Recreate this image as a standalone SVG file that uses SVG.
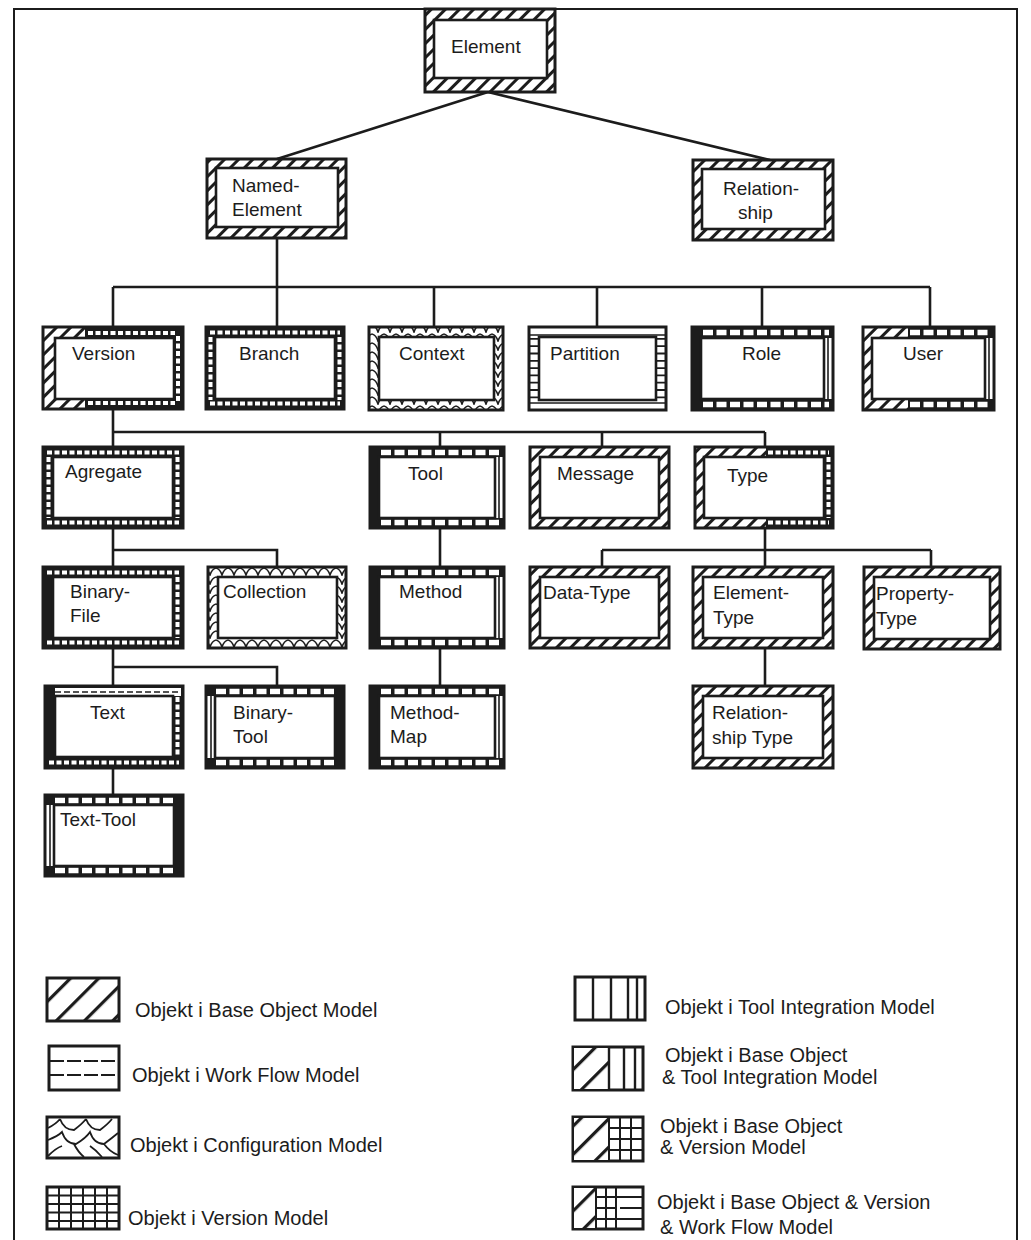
<svg xmlns="http://www.w3.org/2000/svg" width="1031" height="1240" viewBox="0 0 1031 1240">
<defs>
  <style>
    .o{stroke:#1c1c1c;stroke-width:3}
    .i{fill:#fff;stroke:#1c1c1c;stroke-width:2.6}
    .t{font-family:"Liberation Sans",Arial,Helvetica,sans-serif;font-size:19px;fill:#1c1c1c}
    .lt{font-family:"Liberation Sans",Arial,Helvetica,sans-serif;font-size:20px;fill:#1c1c1c}
    .c{stroke:#1c1c1c;stroke-width:2.6;fill:none}
    .w{fill:#fff}
    .ln{stroke:#1c1c1c;fill:none}
    .sq{stroke:#fff;fill:none;stroke-width:4;stroke-dasharray:5 2.5}
    .tb{stroke:#fff;fill:none;stroke-width:5.5;stroke-dasharray:10 3.5}
  </style>
  <!-- base object model: diagonal hatch -->
  <pattern id="pDiag" width="10" height="10" patternUnits="userSpaceOnUse" patternTransform="rotate(45)">
    <rect width="10" height="10" fill="#fff"/>
    <rect width="3" height="10" fill="#1c1c1c"/>
  </pattern>
  <!-- configuration model: wavy cells -->
  <pattern id="pConf" width="12" height="9" patternUnits="userSpaceOnUse">
    <rect width="12" height="9" fill="#fff"/>
    <path d="M0,1 Q4,2 6,8 Q8,2 12,1" fill="none" stroke="#1c1c1c" stroke-width="1.6"/>
  </pattern>
  <pattern id="pLegDiag" width="20" height="20" patternUnits="userSpaceOnUse" patternTransform="rotate(45)">
    <rect width="20" height="20" fill="#fff"/>
    <rect width="3.2" height="20" fill="#1c1c1c"/>
  </pattern>
</defs>

<rect width="1031" height="1240" fill="#fff"/>
<!-- page frame -->
<path d="M14,1240 V9 H1017 V1240" fill="none" stroke="#1c1c1c" stroke-width="2"/>

<!-- connectors -->
<g id="connectors" class="c">
  <path d="M488,92 L277,159 M488,92 L770,160"/>
  <path d="M277,238 V287 M113,287 H930"/>
  <path d="M113,287 V327 M277,287 V327 M434,287 V327 M597,287 V327 M762,287 V327 M930,287 V327"/>
  <path d="M113,409 V447 M113,432 H765 M440,432 V447 M602,432 V447 M765,432 V447"/>
  <path d="M113,528 V567 M113,550 H277 V567"/>
  <path d="M440,528 V567"/>
  <path d="M765,528 V567 M602,550 H931 M602,550 V567 M931,550 V567"/>
  <path d="M113,648 V686 M113,667 H277 V686"/>
  <path d="M440,648 V686"/>
  <path d="M765,648 V686"/>
  <path d="M113,768 V795"/>
</g>

<!-- Element -->
<g id="element">
  <rect class="o" x="425" y="9" width="130" height="83" fill="url(#pDiag)"/>
  <rect class="i" x="434" y="20" width="113" height="58"/>
  <text class="t" x="451" y="53">Element</text>
</g>

<!-- Named-Element -->
<g id="named-element">
  <rect class="o" x="207" y="159" width="139" height="79" fill="url(#pDiag)"/>
  <rect class="i" x="216" y="168" width="122" height="59"/>
  <text class="t" x="232" y="192">Named-</text>
  <text class="t" x="232" y="216">Element</text>
</g>

<!-- Relation-ship -->
<g id="relationship">
  <rect class="o" x="693" y="160" width="140" height="80" fill="url(#pDiag)"/>
  <rect class="i" x="702" y="169" width="123" height="60"/>
  <text class="t" x="723" y="195">Relation-</text>
  <text class="t" x="738" y="219">ship</text>
</g>

<!-- Version: base object + version model -->
<g id="version">
  <rect class="o" x="43" y="327" width="140" height="82" fill="#1c1c1c"/>
  <path d="M88,333 H175 M88,403 H175 M178,336 V401" class="sq"/>
  <path d="M44.5,328.5 H85 V338 H56 V398 H85 V407.5 H44.5 Z" fill="url(#pDiag)"/>
  <rect class="i" x="55" y="338" width="119" height="61"/>
  <text class="t" x="72" y="360">Version</text>
</g>

<!-- Branch: version model -->
<g id="branch">
  <rect class="o" x="206" y="327" width="138" height="82" fill="#1c1c1c"/>
  <path d="M210,332.5 H340 M210,403.5 H340 M210.5,337 V400 M339.5,337 V400" class="sq"/>
  <rect class="i" x="215" y="337" width="120" height="62"/>
  <text class="t" x="239" y="360">Branch</text>
</g>

<!-- Context: configuration model -->
<g id="context">
  <rect class="o" x="369" y="327" width="134" height="83" fill="url(#pConf)"/>
  <rect class="i" x="379" y="337" width="115" height="63"/>
  <text class="t" x="399" y="360">Context</text>
</g>

<!-- Partition: work flow model -->
<g id="partition">
  <rect class="o" x="529" y="327" width="137" height="83" fill="#fff"/>
  <path d="M534,338 V399 M661,338 V399" class="ln" stroke-width="9" stroke-dasharray="1.8 5.5"/>
  <path d="M530,335 H665 M530,403 H665" class="ln" stroke-width="1.6"/>
  <rect class="i" x="539" y="337" width="117" height="63"/>
  <text class="t" x="550" y="360">Partition</text>
</g>

<!-- Role: tool integration model -->
<g id="role">
  <rect class="o" x="692" y="327" width="141" height="83" fill="#1c1c1c"/>
  <path d="M703,332.5 H829 M703,404.5 H829" class="tb"/>
  <rect x="825" y="338" width="6.5" height="61" class="w"/>
  <path d="M828,338 V399" class="ln" stroke-width="1.6"/>
  <rect class="i" x="701" y="338" width="123" height="61"/>
  <text class="t" x="742" y="360">Role</text>
</g>

<!-- User: base object + tool integration model -->
<g id="user">
  <rect class="o" x="863" y="327" width="131" height="83" fill="#1c1c1c"/>
  <path d="M910,332.5 H990 M910,404.5 H990" class="tb"/>
  <path d="M864.5,328.5 H908 V338 H873 V399 H908 V408.5 H864.5 Z" fill="url(#pDiag)"/>
  <rect x="986" y="338" width="6.5" height="61" class="w"/>
  <path d="M989,338 V399" class="ln" stroke-width="1.6"/>
  <rect class="i" x="872" y="338" width="113" height="61"/>
  <text class="t" x="903" y="360">User</text>
</g>

<!-- Agregate: version model -->
<g id="agregate">
  <rect class="o" x="43" y="447" width="140" height="81" fill="#1c1c1c"/>
  <path d="M47,452.5 H179 M47,522.5 H179 M48.5,457 V518 M177.5,457 V518" class="sq"/>
  <rect class="i" x="53" y="457" width="120" height="61"/>
  <text class="t" x="65" y="478">Agregate</text>
</g>

<!-- Tool: tool integration model -->
<g id="tool">
  <rect class="o" x="370" y="447" width="134" height="81" fill="#1c1c1c"/>
  <path d="M381,452.5 H500 M381,522.5 H500" class="tb"/>
  <rect x="496" y="457" width="6.5" height="61" class="w"/>
  <path d="M499,457 V518" class="ln" stroke-width="1.6"/>
  <rect class="i" x="379" y="457" width="116" height="61"/>
  <text class="t" x="408" y="480">Tool</text>
</g>

<!-- Message: base object model -->
<g id="message">
  <rect class="o" x="530" y="447" width="139" height="81" fill="url(#pDiag)"/>
  <rect class="i" x="540" y="457" width="119" height="61"/>
  <text class="t" x="557" y="480">Message</text>
</g>

<!-- Type: base object + version model -->
<g id="type">
  <rect class="o" x="695" y="447" width="138" height="81" fill="#1c1c1c"/>
  <path d="M768,452.5 H829 M768,522.5 H829 M828.5,457 V518" class="sq"/>
  <path d="M696.5,448.5 H766 V457 H704 V518 H766 V526.5 H696.5 Z" fill="url(#pDiag)"/>
  <rect class="i" x="704" y="457" width="120" height="61"/>
  <text class="t" x="727" y="482">Type</text>
</g>

<!-- Binary-File: version model -->
<g id="binary-file">
  <rect class="o" x="43" y="567" width="140" height="81" fill="#1c1c1c"/>
  <path d="M47,572.5 H179 M47,642.5 H179 M177.5,577 V638" class="sq"/>
  <rect class="i" x="53" y="577" width="120" height="61"/>
  <text class="t" x="70" y="598">Binary-</text>
  <text class="t" x="70" y="622">File</text>
</g>

<!-- Collection: configuration model -->
<g id="collection">
  <rect class="o" x="208" y="567" width="138" height="81" fill="url(#pConf)"/>
  <rect class="i" x="218" y="577" width="119" height="61"/>
  <text class="t" x="223" y="598">Collection</text>
</g>

<!-- Method: tool integration model -->
<g id="method">
  <rect class="o" x="370" y="567" width="134" height="81" fill="#1c1c1c"/>
  <path d="M381,572.5 H500 M381,642.5 H500" class="tb"/>
  <rect x="496" y="577" width="6.5" height="61" class="w"/>
  <path d="M499,577 V638" class="ln" stroke-width="1.6"/>
  <rect class="i" x="379" y="577" width="116" height="61"/>
  <text class="t" x="399" y="598">Method</text>
</g>

<!-- Data-Type -->
<g id="data-type">
  <rect class="o" x="530" y="567" width="139" height="81" fill="url(#pDiag)"/>
  <rect class="i" x="540" y="577" width="119" height="61"/>
  <text class="t" x="543" y="599">Data-Type</text>
</g>

<!-- Element-Type -->
<g id="element-type">
  <rect class="o" x="693" y="567" width="140" height="81" fill="url(#pDiag)"/>
  <rect class="i" x="703" y="577" width="120" height="61"/>
  <text class="t" x="713" y="599">Element-</text>
  <text class="t" x="713" y="624">Type</text>
</g>

<!-- Property-Type -->
<g id="property-type">
  <rect class="o" x="864" y="567" width="136" height="82" fill="url(#pDiag)"/>
  <rect class="i" x="874" y="577" width="116" height="62"/>
  <text class="t" x="876" y="600">Property-</text>
  <text class="t" x="876" y="625">Type</text>
</g>

<!-- Text: version + work flow model -->
<g id="text">
  <rect class="o" x="45" y="686" width="138" height="82" fill="#1c1c1c"/>
  <rect x="55" y="688" width="126" height="8" class="w"/>
  <path d="M55,692 H180" class="ln" stroke-width="1.6" stroke-dasharray="6 3"/>
  <path d="M49,762.5 H179 M177.5,697 V757" class="sq"/>
  <rect class="i" x="55" y="696" width="118" height="61"/>
  <text class="t" x="90" y="719">Text</text>
</g>

<!-- Binary-Tool: tool integration model -->
<g id="binary-tool">
  <rect class="o" x="206" y="686" width="138" height="82" fill="#1c1c1c"/>
  <path d="M216,691.5 H334 M216,762.5 H334" class="tb"/>
  <rect x="207.5" y="696" width="6.5" height="62" class="w"/>
  <path d="M211,696 V758" class="ln" stroke-width="1.6"/>
  <rect class="i" x="215" y="696" width="120" height="62"/>
  <text class="t" x="233" y="719">Binary-</text>
  <text class="t" x="233" y="743">Tool</text>
</g>

<!-- Method-Map: tool integration model -->
<g id="method-map">
  <rect class="o" x="370" y="686" width="134" height="82" fill="#1c1c1c"/>
  <path d="M381,691.5 H500 M381,762.5 H500" class="tb"/>
  <rect x="496" y="696" width="6.5" height="62" class="w"/>
  <path d="M499,696 V758" class="ln" stroke-width="1.6"/>
  <rect class="i" x="379" y="696" width="116" height="62"/>
  <text class="t" x="390" y="719">Method-</text>
  <text class="t" x="390" y="743">Map</text>
</g>

<!-- Relationship Type -->
<g id="relationship-type">
  <rect class="o" x="693" y="686" width="140" height="82" fill="url(#pDiag)"/>
  <rect class="i" x="703" y="696" width="120" height="62"/>
  <text class="t" x="712" y="719">Relation-</text>
  <text class="t" x="712" y="744">ship Type</text>
</g>

<!-- Text-Tool: tool integration model -->
<g id="text-tool">
  <rect class="o" x="45" y="795" width="138" height="81" fill="#1c1c1c"/>
  <path d="M55,800.5 H174 M55,870.5 H174" class="tb"/>
  <rect x="46.5" y="805" width="6.5" height="61" class="w"/>
  <path d="M50,805 V866" class="ln" stroke-width="1.6"/>
  <rect class="i" x="54" y="805" width="120" height="61"/>
  <text class="t" x="60" y="826">Text-Tool</text>
</g>

<!-- legend -->
<g id="legend">
  <g id="legend-base">
    <rect x="47" y="978" width="72" height="43" fill="url(#pLegDiag)" class="o"/>
    <text class="lt" x="135" y="1017">Objekt i Base Object Model</text>
  </g>
  <g id="legend-workflow">
    <rect x="49" y="1046" width="70" height="44" fill="#fff" class="o"/>
    <path d="M50,1061 H118 M50,1075 H118" class="ln" stroke-width="2" stroke-dasharray="14 3"/>
    <text class="lt" x="132" y="1082">Objekt i Work Flow Model</text>
  </g>
  <g id="legend-config">
    <rect x="47" y="1117" width="72" height="41" fill="#fff" class="o"/>
    <path d="M48,1128 Q56,1124 60,1119 M60,1119 Q64,1130 74,1130 Q82,1124 86,1119 M86,1119 Q90,1130 100,1130 Q108,1124 112,1119 M48,1140 Q58,1136 62,1132 Q66,1144 76,1144 Q86,1138 90,1132 Q94,1144 104,1144 Q112,1138 118,1133 M48,1156 Q56,1148 62,1146 M74,1144 Q78,1152 84,1157 M90,1146 Q96,1150 102,1157 M104,1144 Q110,1152 118,1155" class="ln" stroke-width="1.8"/>
    <text class="lt" x="130" y="1152">Objekt i Configuration Model</text>
  </g>
  <g id="legend-version">
    <rect x="47" y="1187" width="72" height="42" fill="#fff" class="o"/>
    <path d="M59,1187 V1229 M71,1187 V1229 M83,1187 V1229 M95,1187 V1229 M107,1187 V1229 M47,1195.5 H119 M47,1204 H119 M47,1212.5 H119 M47,1221 H119" class="ln" stroke-width="2"/>
    <text class="lt" x="128" y="1225">Objekt i Version Model</text>
  </g>
  <g id="legend-tool">
    <rect x="575" y="977" width="70" height="43" fill="#fff" class="o"/>
    <path d="M593,977 V1020 M611,977 V1020 M628,977 V1020 M637,977 V1020" class="ln" stroke-width="2.4"/>
    <text class="lt" x="665" y="1014">Objekt i Tool Integration Model</text>
  </g>
  <g id="legend-base-tool">
    <rect x="573" y="1047" width="70" height="43" fill="#fff" class="o"/>
    <rect x="574" y="1048" width="35" height="41" fill="url(#pLegDiag)"/>
    <path d="M609,1047 V1090 M624,1047 V1090 M635,1047 V1090" class="ln" stroke-width="2.4"/>
    <text class="lt" x="665" y="1062">Objekt i Base Object</text>
    <text class="lt" x="662" y="1084">&amp; Tool Integration Model</text>
  </g>
  <g id="legend-base-version">
    <rect x="573" y="1117" width="70" height="44" fill="#fff" class="o"/>
    <rect x="574" y="1118" width="35" height="42" fill="url(#pLegDiag)"/>
    <path d="M609,1117 V1161 M620,1117 V1161 M631,1117 V1161 M609,1128 H643 M609,1139 H643 M609,1150 H643" class="ln" stroke-width="2"/>
    <text class="lt" x="660" y="1133">Objekt i Base Object</text>
    <text class="lt" x="660" y="1154">&amp; Version Model</text>
  </g>
  <g id="legend-base-version-flow">
    <rect x="573" y="1187" width="70" height="42" fill="#fff" class="o"/>
    <rect x="574" y="1188" width="22" height="40" fill="url(#pLegDiag)"/>
    <path d="M596,1187 V1229 M606,1187 V1229 M616,1187 V1229 M596,1197 H643 M596,1208 H616 M596,1219 H643 M620,1208 H643" class="ln" stroke-width="2"/>
    <text class="lt" x="657" y="1209">Objekt i Base Object &amp; Version</text>
    <text class="lt" x="660" y="1234">&amp; Work Flow Model</text>
  </g>
</g>
</svg>
